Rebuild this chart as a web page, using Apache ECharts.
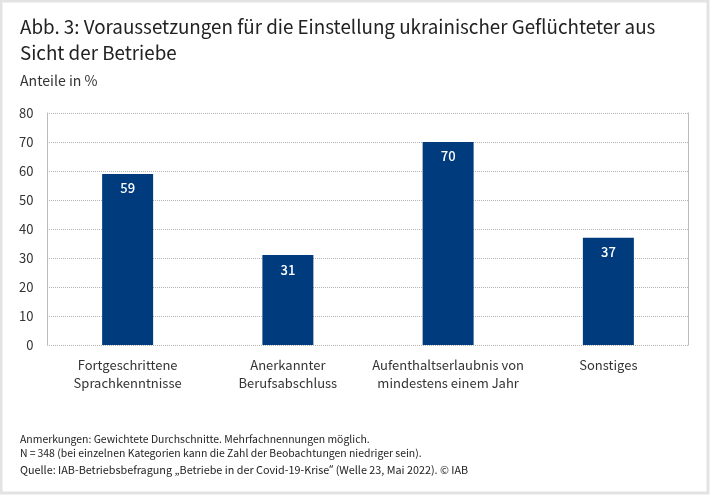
<!DOCTYPE html>
<html>
<head>
    <meta charset="UTF-8">
    <title>Abb. 3</title>
    <script src="https://cdn.jsdelivr.net/npm/echarts@6/dist/echarts.min.js"></script>
    <style>
        html, body { margin: 0; padding: 0; background: #fff; }
        #chart { width: 710px; height: 497px; }
    </style>
</head>
<body>
    <div id="chart"></div>
<script type="text/javascript">
    var categories = ["Fortgeschrittene\nSprachkenntnisse", "Anerkannter\nBerufsabschluss", "Aufenthaltserlaubnis von\nmindestens einem Jahr", "Sonstiges"];
    var values = [59, 31, 70, 37];
    var titleText = "Abb. 3: Voraussetzungen für die Einstellung ukrainischer Geflüchteter aus\nSicht der Betriebe";
    var unitText = "Anteile in %";
    var noteText = "Anmerkungen: Gewichtete Durchschnitte. Mehrfachnennungen möglich.\nN\u2009=\u2009348 (bei einzelnen Kategorien kann die Zahl der Beobachtungen niedriger sein).";
    var sourceText = "Quelle: IAB-Betriebsbefragung „Betriebe in der Covid-19-Krise{q|“} (Welle 23, Mai 2022). © IAB";

    var font = "'Noto Sans CJK SC'";
    var textColor = "#333333";
    var dotted = { color: "#b4b4b4", type: [1, 1], dashOffset: 0.5, width: 1 };

    var option = {
        backgroundColor: "#fff",
        animation: false,
        textStyle: { fontFamily: font, color: textColor },
        graphic: [
            { type: "rect", silent: true, shape: { x: 1, y: 1, width: 707, height: 492 }, style: { fill: "none", stroke: "#e3e3e3", lineWidth: 3 } },
            { type: "text", left: 20, top: 14, style: { text: titleText, font: "18.8px " + font, lineHeight: 26, fill: "#222222" } },
            { type: "text", left: 20, top: 74, style: { text: unitText, font: "14.1px " + font, fill: textColor } },
            { type: "text", left: 20, top: 432, style: { text: noteText, font: "10.45px " + font, lineHeight: 14, fill: "#222222" } },
            { type: "text", left: 20, top: 464, style: { text: sourceText, font: "10.8px " + font, fill: "#222222", rich: { q: { fontFamily: "'Noto Sans'", fontSize: 10.8 } } } }
        ],
        grid: { left: 47.5, right: 21.5, top: 113, bottom: 152 },
        xAxis: {
            type: "category",
            data: categories,
            axisTick: { show: false },
            axisLine: { show: false },
            splitLine: { show: false },
            axisLabel: { fontFamily: font, fontSize: 13, lineHeight: 18, color: textColor, margin: 11, interval: 0 }
        },
        yAxis: [
            {
                type: "value",
                min: 0,
                max: 80,
                interval: 10,
                axisLine: { show: true, lineStyle: dotted },
                axisTick: { show: false },
                splitLine: { show: true, lineStyle: dotted },
                axisLabel: { fontFamily: font, fontSize: 13, color: textColor, margin: 14 }
            },
            {
                // nur fuer den rechten Rand des Rasters
                type: "value",
                position: "right",
                min: 0,
                max: 80,
                interval: 10,
                axisLine: { show: true, lineStyle: dotted },
                axisTick: { show: false },
                splitLine: { show: false },
                axisLabel: { show: false }
            }
        ],
        series: [
            {
                type: "bar",
                data: values,
                barWidth: 51,
                itemStyle: { color: "#003c7d" },
                label: {
                    show: true,
                    position: "insideTop",
                    distance: 8,
                    fontFamily: font,
                    fontSize: 13,
                    fontWeight: 500,
                    color: "#ffffff"
                }
            }
        ]
    };
    echarts.init(document.getElementById("chart")).setOption(option);
</script>
</body>
</html>
